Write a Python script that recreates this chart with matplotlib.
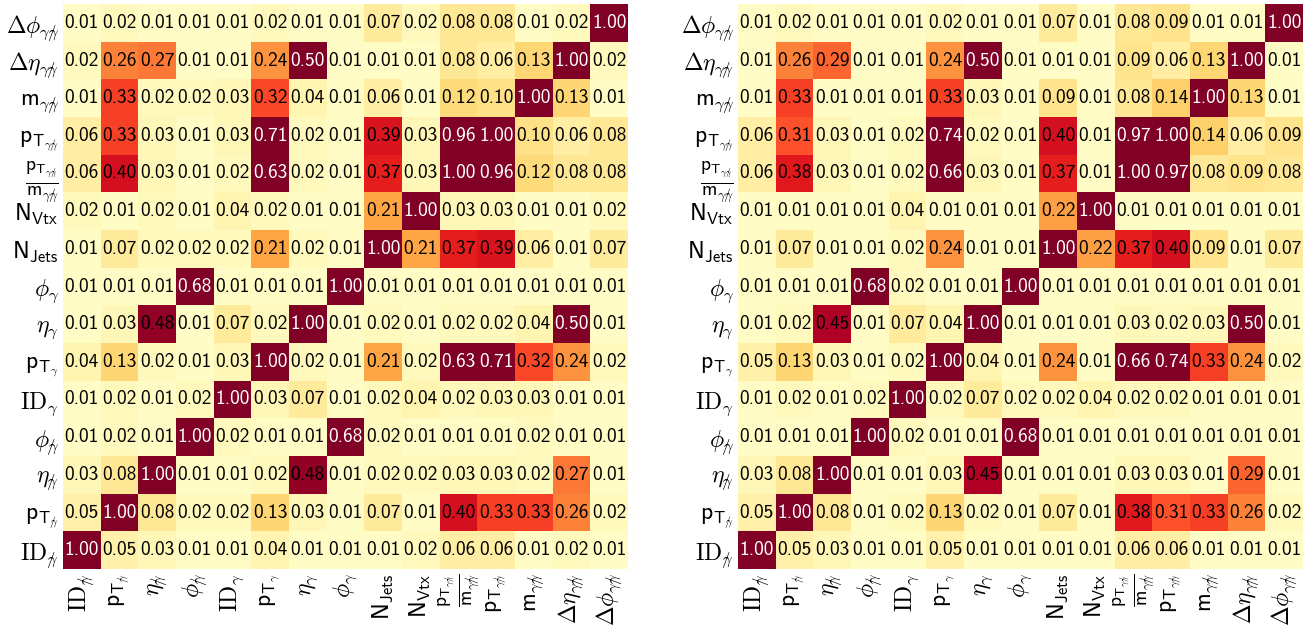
"""Pairwise correlation matrices of the diphoton input variables, two samples side by side."""
import matplotlib
matplotlib.use("Agg")
import matplotlib.pyplot as plt
import numpy as np

plt.rcParams["mathtext.fontset"] = "cm"

# slashed photon
G2 = r"\gamma\!\!\!\!/"
PAIR = r"\gamma" + G2

# variable order (row 0 drawn at the bottom, column 0 at the left)
labels = [
    r"$\mathrm{ID}_{%s}$" % G2,
    r"$\mathsf{p}_{\mathsf{T}_{%s}}$" % G2,
    r"$\eta_{%s}$" % G2,
    r"$\phi_{%s}$" % G2,
    r"$\mathrm{ID}_{\gamma}$",
    r"$\mathsf{p}_{\mathsf{T}_{\gamma}}$",
    r"$\eta_{\gamma}$",
    r"$\phi_{\gamma}$",
    r"$\mathsf{N}_{\mathsf{Jets}}$",
    r"$\mathsf{N}_{\mathsf{Vtx}}$",
    r"$\frac{\mathsf{p}_{\mathsf{T}_{%s}}}{\mathsf{m}_{%s}}$" % (PAIR, PAIR),
    r"$\mathsf{p}_{\mathsf{T}_{%s}}$" % PAIR,
    r"$\mathsf{m}_{%s}$" % PAIR,
    r"$\Delta\eta_{%s}$" % PAIR,
    r"$\Delta\phi_{%s}$" % PAIR,
]
FRAC_IDX = 10

# rows listed bottom (ID) to top (delta phi)
corr_left = [
    [1.00, 0.05, 0.03, 0.01, 0.01, 0.04, 0.01, 0.01, 0.01, 0.02, 0.06, 0.06, 0.01, 0.02, 0.01],
    [0.05, 1.00, 0.08, 0.02, 0.02, 0.13, 0.03, 0.01, 0.07, 0.01, 0.40, 0.33, 0.33, 0.26, 0.02],
    [0.03, 0.08, 1.00, 0.01, 0.01, 0.02, 0.48, 0.01, 0.02, 0.02, 0.03, 0.03, 0.02, 0.27, 0.01],
    [0.01, 0.02, 0.01, 1.00, 0.02, 0.01, 0.01, 0.68, 0.02, 0.01, 0.01, 0.01, 0.02, 0.01, 0.01],
    [0.01, 0.02, 0.01, 0.02, 1.00, 0.03, 0.07, 0.01, 0.02, 0.04, 0.02, 0.03, 0.03, 0.01, 0.01],
    [0.04, 0.13, 0.02, 0.01, 0.03, 1.00, 0.02, 0.01, 0.21, 0.02, 0.63, 0.71, 0.32, 0.24, 0.02],
    [0.01, 0.03, 0.48, 0.01, 0.07, 0.02, 1.00, 0.01, 0.02, 0.01, 0.02, 0.02, 0.04, 0.50, 0.01],
    [0.01, 0.01, 0.01, 0.68, 0.01, 0.01, 0.01, 1.00, 0.01, 0.01, 0.01, 0.01, 0.01, 0.01, 0.01],
    [0.01, 0.07, 0.02, 0.02, 0.02, 0.21, 0.02, 0.01, 1.00, 0.21, 0.37, 0.39, 0.06, 0.01, 0.07],
    [0.02, 0.01, 0.02, 0.01, 0.04, 0.02, 0.01, 0.01, 0.21, 1.00, 0.03, 0.03, 0.01, 0.01, 0.02],
    [0.06, 0.40, 0.03, 0.01, 0.02, 0.63, 0.02, 0.01, 0.37, 0.03, 1.00, 0.96, 0.12, 0.08, 0.08],
    [0.06, 0.33, 0.03, 0.01, 0.03, 0.71, 0.02, 0.01, 0.39, 0.03, 0.96, 1.00, 0.10, 0.06, 0.08],
    [0.01, 0.33, 0.02, 0.02, 0.03, 0.32, 0.04, 0.01, 0.06, 0.01, 0.12, 0.10, 1.00, 0.13, 0.01],
    [0.02, 0.26, 0.27, 0.01, 0.01, 0.24, 0.50, 0.01, 0.01, 0.01, 0.08, 0.06, 0.13, 1.00, 0.02],
    [0.01, 0.02, 0.01, 0.01, 0.01, 0.02, 0.01, 0.01, 0.07, 0.02, 0.08, 0.08, 0.01, 0.02, 1.00],
]

corr_right = [
    [1.00, 0.05, 0.03, 0.01, 0.01, 0.05, 0.01, 0.01, 0.01, 0.01, 0.06, 0.06, 0.01, 0.01, 0.01],
    [0.05, 1.00, 0.08, 0.01, 0.02, 0.13, 0.02, 0.01, 0.07, 0.01, 0.38, 0.31, 0.33, 0.26, 0.02],
    [0.03, 0.08, 1.00, 0.01, 0.01, 0.03, 0.45, 0.01, 0.01, 0.01, 0.03, 0.03, 0.01, 0.29, 0.01],
    [0.01, 0.01, 0.01, 1.00, 0.02, 0.01, 0.01, 0.68, 0.01, 0.01, 0.01, 0.01, 0.01, 0.01, 0.01],
    [0.01, 0.02, 0.01, 0.02, 1.00, 0.02, 0.07, 0.02, 0.02, 0.04, 0.02, 0.02, 0.01, 0.01, 0.01],
    [0.05, 0.13, 0.03, 0.01, 0.02, 1.00, 0.04, 0.01, 0.24, 0.01, 0.66, 0.74, 0.33, 0.24, 0.02],
    [0.01, 0.02, 0.45, 0.01, 0.07, 0.04, 1.00, 0.01, 0.01, 0.01, 0.03, 0.02, 0.03, 0.50, 0.01],
    [0.01, 0.01, 0.01, 0.68, 0.02, 0.01, 0.01, 1.00, 0.01, 0.01, 0.01, 0.01, 0.01, 0.01, 0.01],
    [0.01, 0.07, 0.01, 0.01, 0.02, 0.24, 0.01, 0.01, 1.00, 0.22, 0.37, 0.40, 0.09, 0.01, 0.07],
    [0.01, 0.01, 0.01, 0.01, 0.04, 0.01, 0.01, 0.01, 0.22, 1.00, 0.01, 0.01, 0.01, 0.01, 0.01],
    [0.06, 0.38, 0.03, 0.01, 0.02, 0.66, 0.03, 0.01, 0.37, 0.01, 1.00, 0.97, 0.08, 0.09, 0.08],
    [0.06, 0.31, 0.03, 0.01, 0.02, 0.74, 0.02, 0.01, 0.40, 0.01, 0.97, 1.00, 0.14, 0.06, 0.09],
    [0.01, 0.33, 0.01, 0.01, 0.01, 0.33, 0.03, 0.01, 0.09, 0.01, 0.08, 0.14, 1.00, 0.13, 0.01],
    [0.01, 0.26, 0.29, 0.01, 0.01, 0.24, 0.50, 0.01, 0.01, 0.01, 0.09, 0.06, 0.13, 1.00, 0.01],
    [0.01, 0.02, 0.01, 0.01, 0.01, 0.02, 0.01, 0.01, 0.07, 0.01, 0.08, 0.09, 0.01, 0.01, 1.00],
]


def draw_corr(ax, corr):
    c = np.asarray(corr)
    n = c.shape[0]
    ax.pcolormesh(np.arange(n + 1), np.arange(n + 1), c,
                  cmap="YlOrRd", vmin=0.0, vmax=0.5)
    for i in range(n):
        for j in range(n):
            v = c[i, j]
            ax.text(j + 0.5, i + 0.5, f"{v:.2f}", ha="center", va="center",
                    fontsize=14, family="cmss10",
                    color="white" if v >= 0.5 else "black")
    ax.set_xlim(0, n)
    ax.set_ylim(0, n)
    ax.set_xticks(np.arange(n) + 0.5)
    ax.set_yticks(np.arange(n) + 0.5)
    ax.set_xticklabels(labels, rotation=90, fontsize=17)
    ax.set_yticklabels(labels, fontsize=17)
    # the ratio label is stacked, give it a little more room
    ax.get_xticklabels()[FRAC_IDX].set_fontsize(20)
    ax.get_yticklabels()[FRAC_IDX].set_fontsize(20)
    ax.tick_params(length=0, pad=3)
    for s in ax.spines.values():
        s.set_visible(False)


fig = plt.figure(figsize=(13.13, 6.25), dpi=100)
ax1 = fig.add_axes([63 / 1313, 56 / 625, 565 / 1313, 565 / 625])
ax2 = fig.add_axes([738 / 1313, 56 / 625, 565 / 1313, 565 / 625])
draw_corr(ax1, corr_left)
draw_corr(ax2, corr_right)

fig.savefig("out.png", dpi=100)
